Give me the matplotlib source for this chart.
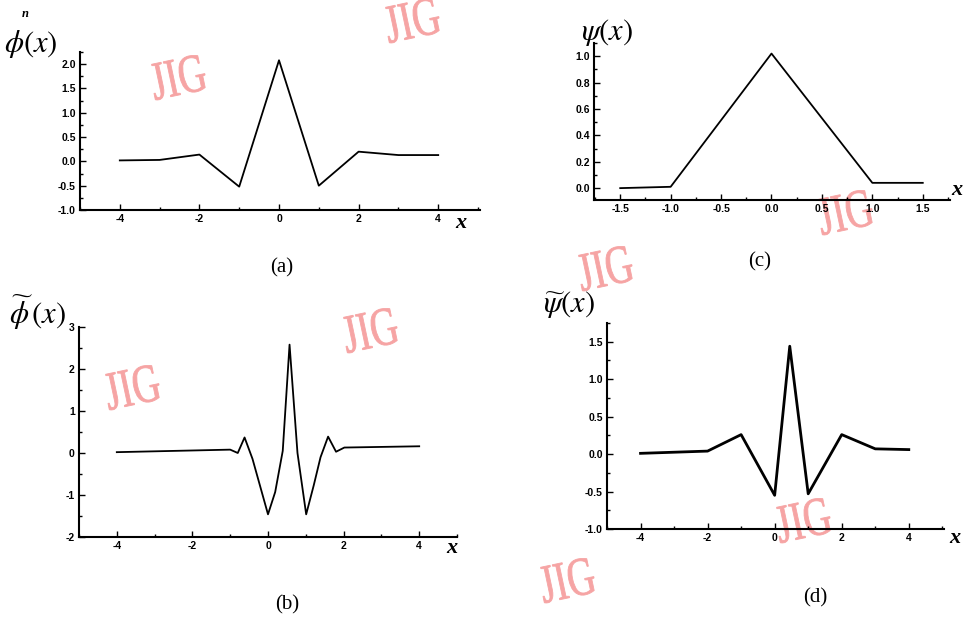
import matplotlib.pyplot as plt
from matplotlib.ticker import AutoMinorLocator
from matplotlib.textpath import TextPath
from matplotlib.patches import PathPatch
from matplotlib.font_manager import FontProperties
from matplotlib.transforms import Affine2D, IdentityTransform

plt.rcParams['mathtext.fontset'] = 'stix'
plt.rcParams['axes.unicode_minus'] = False

# (a) phi(x)
xa = [-4, -3, -2, -1, 0, 1, 2, 3, 4]
ya = [0.02, 0.03, 0.14, -0.52, 2.08, -0.5, 0.2, 0.13, 0.13]

# (c) psi(x)
xc = [-1.5, -1.0, 0.0, 1.0, 1.5]
yc = [0.0, 0.01, 1.02, 0.04, 0.04]

# (b) phi~(x)
xb = [-4, -1.0, -0.8, -0.62, -0.41, 0.0, 0.19, 0.39, 0.57, 0.78, 1.01, 1.21, 1.39, 1.59, 1.8, 2.02, 4]
yb = [0.02, 0.08, 0.0, 0.37, -0.14, -1.46, -0.93, 0.05, 2.58, 0.0, -1.46, -0.77, -0.1, 0.39, 0.03, 0.13, 0.16]

# (d) psi~(x)
xd = [-4, -2, -1, 0, 0.45, 1, 2, 3, 4]
yd = [0.01, 0.04, 0.26, -0.55, 1.44, -0.53, 0.26, 0.07, 0.06]

fig = plt.figure(figsize=(9.64, 6.19), dpi=100)
W, H = 964, 619


def make_ax(l, t, r, b):
    ax = fig.add_axes([l / W, 1 - b / H, (r - l) / W, (b - t) / H])
    ax.set_facecolor('none')
    ax.spines['top'].set_visible(False)
    ax.spines['right'].set_visible(False)
    ax.spines['left'].set_linewidth(1.5)
    ax.spines['bottom'].set_linewidth(1.5)
    ax.tick_params(which='both', direction='in', width=1)
    ax.tick_params(which='major', length=4, labelsize=7.5, pad=3)
    ax.tick_params(which='minor', length=2)
    ax.xaxis.set_minor_locator(AutoMinorLocator(2))
    ax.yaxis.set_minor_locator(AutoMinorLocator(2))
    return ax


def fix_labels(ax):
    for lab in ax.get_xticklabels() + ax.get_yticklabels():
        lab.set_fontweight('bold')
        lab.set_family('Liberation Sans')


ax_a = make_ax(80, 52, 480, 210)
ax_a.plot(xa, ya, color='black', lw=1.3)
ax_a.set_xlim(-5, 5.05)
ax_a.set_ylim(-1.0, 2.25)
ax_a.set_xticks([-4, -2, 0, 2, 4])
ax_a.set_yticks([-1.0, -0.5, 0.0, 0.5, 1.0, 1.5, 2.0])
ax_a.set_yticklabels(['-1.0', '-0.5', '0.0', '0.5', '1.0', '1.5', '2.0'])
fix_labels(ax_a)

ax_c = make_ax(594, 43, 950, 200)
ax_c.plot(xc, yc, color='black', lw=1.3)
ax_c.set_xlim(-1.76, 1.77)
ax_c.set_ylim(-0.09, 1.1)
ax_c.set_xticks([-1.5, -1.0, -0.5, 0.0, 0.5, 1.0, 1.5])
ax_c.set_yticks([0.0, 0.2, 0.4, 0.6, 0.8, 1.0])
ax_c.set_xticklabels(['-1.5', '-1.0', '-0.5', '0.0', '0.5', '1.0', '1.5'])
ax_c.set_yticklabels(['0.0', '0.2', '0.4', '0.6', '0.8', '1.0'])
fix_labels(ax_c)

ax_b = make_ax(79, 327, 457, 537)
ax_b.plot(xb, yb, color='black', lw=1.3)
ax_b.set_xlim(-5, 5)
ax_b.set_ylim(-2, 3)
ax_b.set_xticks([-4, -2, 0, 2, 4])
ax_b.set_yticks([-2, -1, 0, 1, 2, 3])
fix_labels(ax_b)

ax_d = make_ax(607, 323, 944, 529)
ax_d.plot(xd, yd, color='black', lw=2.0)
ax_d.set_xlim(-5, 5.05)
ax_d.set_ylim(-1.0, 1.75)
ax_d.set_xticks([-4, -2, 0, 2, 4])
ax_d.set_yticks([-1.0, -0.5, 0.0, 0.5, 1.0, 1.5])
ax_d.set_yticklabels(['-1.0', '-0.5', '0.0', '0.5', '1.0', '1.5'])
fix_labels(ax_d)


def ftext(x, y, s, **kw):
    fig.text(x / W, 1 - y / H, s, **kw)


# function labels
ftext(4, 44, r'$\phi(x)$', fontsize=22, va='center', ha='left')
ftext(22, 14, 'n', fontsize=9, style='italic', weight='bold', family='Liberation Serif', va='center')
ftext(581, 32, r'$\psi(x)$', fontsize=22, va='center', ha='left')
ftext(9, 312, r'$\widetilde{\phi}\,(x)$', fontsize=22, va='center', ha='left')
ftext(543, 305, r'$\widetilde{\psi}(x)$', fontsize=22, va='center', ha='left')

# axis x labels
for (px, py) in [(461, 223), (957, 190), (452, 548), (955, 538)]:
    ftext(px, py, 'x', fontsize=16, style='italic', weight='bold',
          family='Liberation Serif', va='center', ha='center')

# panel captions
for (px, py, s) in [(282, 268, '(a)'), (760, 262, '(c)'), (287, 605, '(b)'), (815, 598, '(d)')]:
    ftext(px, py, s, fontsize=15, family='Liberation Serif', va='center', ha='center')

# watermarks (drawn beneath the axes)
wm_x = [178, 412, 845, 605, 132, 370, 803, 567]
wm_y = [77, 20, 212, 268, 387, 330, 520, 580]
fp = FontProperties(family='Liberation Serif')
tp = TextPath((0, 0), 'JIG', size=42, prop=fp)
bb = tp.get_extents()
for (px, py) in zip(wm_x, wm_y):
    tr = (Affine2D().translate(-(bb.x0 + bb.x1) / 2, -(bb.y0 + bb.y1) / 2)
          .scale(0.92, 1.3).rotate_deg(12).translate(px, H - py))
    patch = PathPatch(tr.transform_path(tp), facecolor='#f6a4a4', edgecolor='#f6a4a4',
                      lw=0.6, transform=IdentityTransform(), zorder=-1)
    fig.patches.append(patch)

fig.savefig('out.png', dpi=100)
